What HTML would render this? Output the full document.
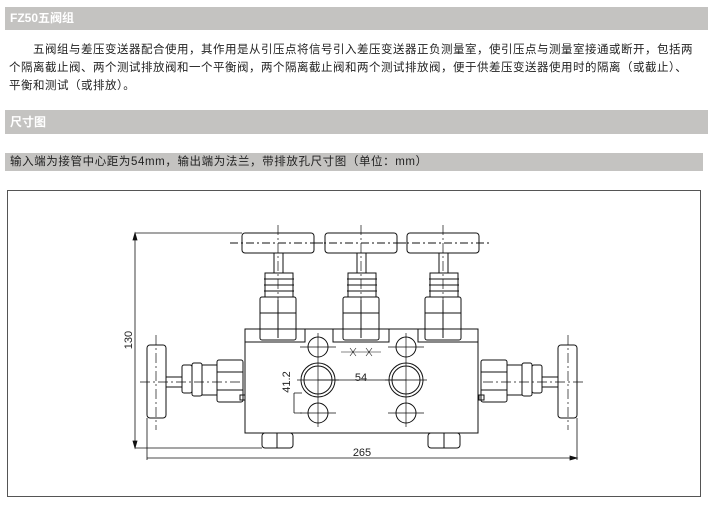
<!DOCTYPE html>
<html><head><meta charset="utf-8"><style>
body{margin:0;width:709px;height:505px;background:#fff;font-family:"Liberation Sans","Noto Sans CJK SC",sans-serif;position:relative;overflow:hidden}
.bar{position:absolute;left:5px;width:698px;background:#c4c3c1;}
.t{color:#fff;font-weight:bold;font-size:12px;padding-left:5px}
p{position:absolute;left:9px;top:41px;margin:0;width:700px;font-size:11.5px;line-height:18px;color:#222;white-space:nowrap;letter-spacing:0.5px}
</style></head><body>
<div class="bar t" style="top:7px;height:23px;line-height:23px">FZ50五阀组</div>
<p>　　五阀组与差压变送器配合使用，其作用是从引压点将信号引入差压变送器正负测量室，使引压点与测量室接通或断开，包括两<br>个隔离截止阀、两个测试排放阀和一个平衡阀，两个隔离截止阀和两个测试排放阀，便于供差压变送器使用时的隔离（或截止）、<br>平衡和测试（或排放）。</p>
<div class="bar t" style="top:110px;height:24px;line-height:24px">尺寸图</div>
<div class="bar" style="top:153px;height:18px;line-height:18px;font-size:11.5px;color:#222;padding-left:5px;width:693px;letter-spacing:0.6px">输入端为接管中心距为54mm，输出端为法兰，带排放孔尺寸图（单位：mm）</div>
<svg width="709" height="505" style="position:absolute;left:0;top:0" fill="none" stroke="#111" stroke-width="1">
<rect x="7.5" y="190.5" width="693" height="306" stroke="#555"/>
<g id="tv">
<rect x="242" y="233" width="72" height="20" rx="3" fill="#fff"/>
<rect x="274" y="253" width="9" height="20" fill="#fff"/>
<path d="M265 273h28v24h-28z M264 279h30 M264 285h30 M264 291h30" fill="#fff"/>
<rect x="260" y="297" width="36" height="43" rx="2" fill="#fff"/>
<path d="M278 300v38 M260 313h36"/>
</g>
<use href="#tv" x="83"/><use href="#tv" x="165"/>
<path d="M230 243h95M313 243h95M396 243h95" stroke-dasharray="8 3 2 3"/>
<rect x="245" y="329" width="233" height="104"/>
<path d="M245 342h60v-13M333 329v13h56v-13M418 329v13h60"/>
<path d="M278 225v110M361 225v110M443 225v110" stroke-dasharray="10 3 2 3" stroke-width=".7"/>
<g stroke-width="1">
<circle cx="318" cy="347" r="10"/><circle cx="406" cy="347" r="10"/>
<circle cx="318" cy="413" r="10"/><circle cx="406" cy="413" r="10"/>
<circle cx="318" cy="380" r="17"/><circle cx="318" cy="380" r="14"/>
<circle cx="406" cy="380" r="17"/><circle cx="406" cy="380" r="14"/>
<path d="M318 333v94M406 333v94M300 347h36M388 347h36M300 413h36M388 413h36M297 380h42M385 380h42" stroke-width=".7"/>
</g>
<g id="sv">
<rect x="147" y="345" width="19" height="73" rx="3" fill="#fff"/>
<rect x="166" y="377" width="16" height="10" fill="#fff"/>
<rect x="182" y="365" width="10" height="28" rx="2" fill="#fff"/>
<rect x="192" y="363" width="10" height="33" rx="2" fill="#fff"/>
<rect x="202" y="365" width="15" height="30" fill="#fff"/>
<rect x="217" y="360" width="26" height="42" rx="2" fill="#fff"/>
<path d="M217 372h26M217 390h26"/>
<rect x="240" y="395" width="5" height="5"/>
</g>
<use href="#sv" transform="translate(724,0) scale(-1,1)"/>
<path d="M140 382h100M483 382h100M156 335v95M568 335v95" stroke-dasharray="10 3 2 3" stroke-width=".7"/>
<rect x="262" y="433" width="31" height="15" rx="3"/><path d="M277 433v15"/>
<rect x="428" y="433" width="32" height="15" rx="3"/><path d="M444 433v15"/>
<g stroke-width=".8">
<path d="M135 233v215M135 233h107M135 448h127M147 418v42M577 418v42M147 458h430M294 393v20M294 393h8M294 413h8M318 380h88"/>
<path d="M135 233l-2 7h4zM135 448l-2-7h4zM577 458l-7-2v4z" fill="#111"/>
<path d="M341 352h40M350 348l6 8M356 348l-6 8M366 348l6 8M372 348l-6 8" stroke-width=".6"/>
</g>
<g fill="#222" stroke="none" font-family="Liberation Sans" font-size="11">
<text x="132" y="340" transform="rotate(-90 132 340)" text-anchor="middle">130</text>
<text x="290" y="382" transform="rotate(-90 290 382)" text-anchor="middle">41.2</text>
<text x="361" y="381" text-anchor="middle">54</text>
<text x="362" y="456" text-anchor="middle">265</text>
</g>
</svg>
</body></html>
